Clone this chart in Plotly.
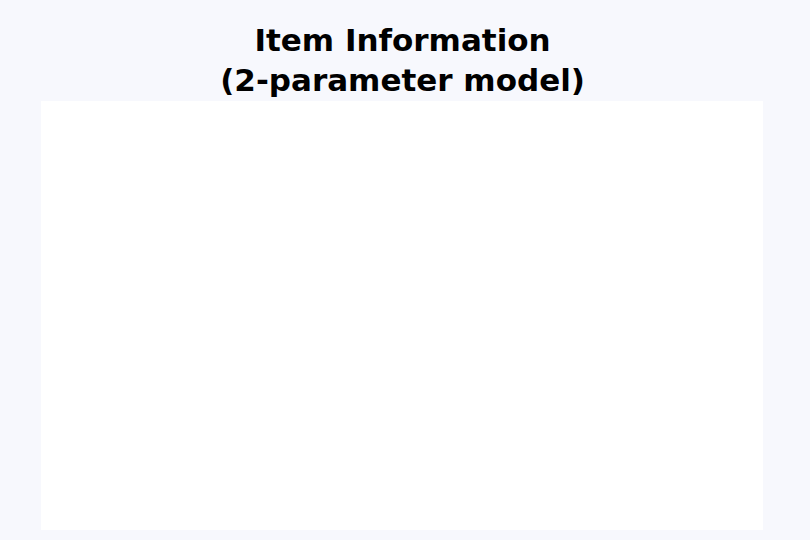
import plotly.graph_objects as go

# The reference plot area is blank: no data marks are visible.
theta = []
information = []
title_lines = ["Item Information", "(2-parameter model)"]

fig = go.Figure()
fig.add_trace(go.Scatter(x=theta, y=information, mode="lines", showlegend=False))

fig.update_layout(
    width=810,
    height=540,
    paper_bgcolor="#F7F8FD",
    plot_bgcolor="#FFFFFF",
    margin=dict(l=41, r=47, t=101, b=10),
    title=dict(
        text="<br>".join(title_lines),
        x=0.497,
        xanchor="center",
        y=0.906,
        yanchor="top",
        font=dict(family="DejaVu Sans", size=31, color="#000000", weight="bold"),
    ),
    xaxis=dict(visible=False, range=[-3, 3]),
    yaxis=dict(visible=False, range=[0, 1]),
)

fig.write_html(
    "out.html",
    config={"displayModeBar": False},
    post_script="document.body.style.margin='0';document.body.style.overflow='hidden';",
)
